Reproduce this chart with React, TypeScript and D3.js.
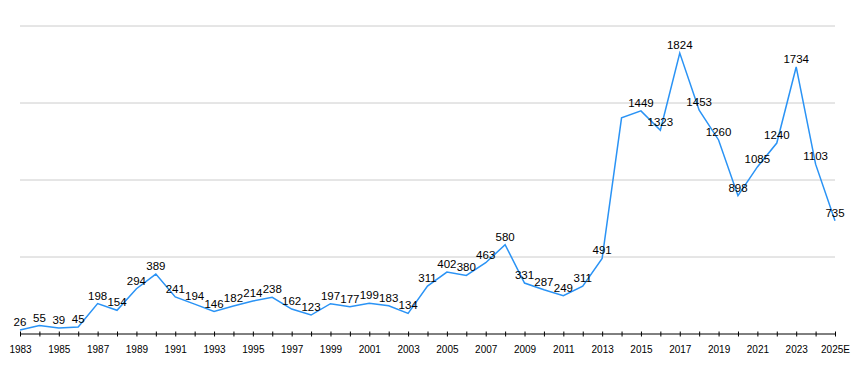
import React, { useEffect, useRef } from "react";
import * as d3 from "d3";

// 연도별 값
const years: string[] = [
  "1983", "1984", "1985", "1986", "1987", "1988", "1989", "1990", "1991", "1992",
  "1993", "1994", "1995", "1996", "1997", "1998", "1999", "2000", "2001", "2002",
  "2003", "2004", "2005", "2006", "2007", "2008", "2009", "2010", "2011", "2012",
  "2013", "2014", "2015", "2016", "2017", "2018", "2019", "2020", "2021", "2022",
  "2023", "2024", "2025E",
];

const values: number[] = [
  26, 55, 39, 45, 198, 154, 294, 389, 241, 194,
  146, 182, 214, 238, 162, 123, 197, 177, 199, 183,
  134, 311, 402, 380, 463, 580, 331, 287, 249, 311,
  491, 1404, 1449, 1323, 1824, 1453, 1260, 898, 1085, 1240,
  1734, 1103, 735,
];

// 라벨이 표시되지 않는 연도
const hiddenLabels: string[] = ["2014"];

const gridValues: number[] = [500, 1000, 1500, 2000];

const W = 862;
const H = 368;

export default function App() {
  const svgRef = useRef<SVGSVGElement>(null);

  useEffect(() => {
    if (!svgRef.current) return;
    const svg = d3.select(svgRef.current);
    svg.selectAll("*").remove();

    const x = d3.scalePoint<string>().domain(years).range([20, 835]);
    const y = d3.scaleLinear().domain([0, 2000]).range([334, 26]);

    // 그리드
    svg
      .append("g")
      .selectAll("line")
      .data(gridValues)
      .join("line")
      .attr("x1", 20)
      .attr("x2", 835)
      .attr("y1", (d) => y(d))
      .attr("y2", (d) => y(d))
      .attr("stroke", "#cccccc")
      .attr("stroke-width", 1);

    // X축
    const axis = svg
      .append("g")
      .attr("transform", `translate(0, ${y(0)})`)
      .call(
        d3
          .axisBottom(x)
          .tickSize(2)
          .tickFormat((d, i) => (i % 2 === 0 ? d : ""))
      );
    axis.select(".domain").attr("stroke", "#000").attr("d", `M20,0H835`);
    axis
      .selectAll(".tick line")
      .attr("y1", -2.5)
      .attr("y2", 2.5)
      .attr("stroke", "#000");
    axis
      .selectAll(".tick text")
      .attr("y", 19)
      .attr("dy", "0")
      .style("font-family", "'Liberation Sans', Arial, sans-serif")
      .style("font-size", "10px")
      .attr("fill", "#000");

    // 라인
    const line = d3
      .line<number>()
      .x((_, i) => x(years[i]) as number)
      .y((d) => y(d));

    svg
      .append("path")
      .datum(values)
      .attr("d", line)
      .attr("fill", "none")
      .attr("stroke", "#2a93f5")
      .attr("stroke-width", 1.5)
      .attr("stroke-linejoin", "miter");

    // 값 라벨
    svg
      .append("g")
      .selectAll("text")
      .data(values)
      .join("text")
      .attr("x", (_, i) => x(years[i]) as number)
      .attr("y", (d) => y(d) - 4)
      .attr("text-anchor", "middle")
      .style("font-family", "'Liberation Sans', Arial, sans-serif")
      .style("font-size", "11.5px")
      .attr("fill", "#000")
      .text((d, i) => (hiddenLabels.includes(years[i]) ? "" : String(d)));
  }, []);

  return (
    <svg
      ref={svgRef}
      width={W}
      height={H}
      style={{ position: "absolute", left: 0, top: 0, background: "#fff" }}
    />
  );
}
